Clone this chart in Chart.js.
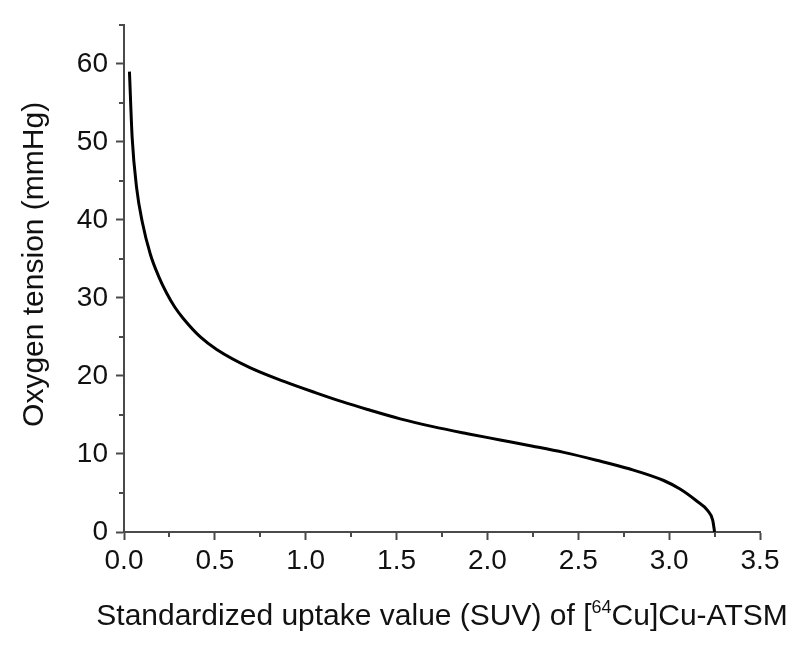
<!DOCTYPE html>
<html>
<head>
<meta charset="utf-8">
<script src="https://cdn.jsdelivr.net/npm/chart.js@4"></script>
<style>
  html, body { margin: 0; padding: 0; background: #fff; }
  #wrap { width: 800px; height: 646px; }
</style>
</head>
<body>
<div id="wrap"><canvas id="chart" width="800" height="646"></canvas></div>
<script>
// values
const suvValues = [0.03, 0.045, 0.07, 0.1, 0.145, 0.19, 0.235, 0.28, 0.325, 0.42, 0.51, 0.69, 0.88, 1.06, 1.2, 1.34, 1.52, 1.7, 1.89, 2.07, 2.25, 2.42, 2.6, 2.78, 2.97, 3.06, 3.15, 3.21, 3.24, 3.25];
const oxygenValues = [59, 50.5, 44, 39.8, 35.6, 32.8, 30.6, 28.8, 27.4, 25.0, 23.4, 21.1, 19.3, 17.8, 16.7, 15.7, 14.5, 13.5, 12.6, 11.8, 11.0, 10.2, 9.2, 8.1, 6.6, 5.5, 4.0, 2.8, 1.5, 0];

const xMajorTicks = [0, 0.5, 1, 1.5, 2, 2.5, 3, 3.5];
const xMinorTicks = [0.25, 0.75, 1.25, 1.75, 2.25, 2.75, 3.25];
const yMajorTicks = [0, 10, 20, 30, 40, 50, 60];
const yMinorTicks = [5, 15, 25, 35, 45, 55, 65];

// x title: text before the superscript, the superscript, text after it
const xTitleParts = ['Standardized uptake value (SUV) of [', '64', 'Cu]Cu-ATSM'];
const yTitle = 'Oxygen tension (mmHg)';

const axisColor = '#4a4a4a';
const textColor = '#111';
const fontFamily = '"Liberation Sans", Arial, sans-serif';

// short minor ticks, drawn from the scales
const minorTicks = {
    id: 'minorTicks',
    afterDraw(chart) {
        const ctx = chart.ctx;
        const xs = chart.scales.x, ys = chart.scales.y;
        ctx.save();
        ctx.strokeStyle = axisColor;
        ctx.lineWidth = 2;
        ctx.beginPath();
        xMinorTicks.forEach(v => {
            const px = Math.round(xs.getPixelForValue(v));
            ctx.moveTo(px, xs.top);
            ctx.lineTo(px, xs.top + 5);
        });
        yMinorTicks.forEach(v => {
            const py = Math.round(ys.getPixelForValue(v));
            ctx.moveTo(ys.right, py);
            ctx.lineTo(ys.right - 5, py);
        });
        ctx.stroke();
        ctx.restore();
    }
};

// axis titles (the x one needs a real superscript)
const axisTitles = {
    id: 'axisTitles',
    afterDraw(chart) {
        const ctx = chart.ctx;
        const area = chart.chartArea;
        ctx.save();
        ctx.fillStyle = textColor;
        ctx.textBaseline = 'alphabetic';

        const big = '30px ' + fontFamily;
        const small = '18px ' + fontFamily;
        ctx.font = big;
        const w0 = ctx.measureText(xTitleParts[0]).width;
        const w2 = ctx.measureText(xTitleParts[2]).width;
        ctx.font = small;
        const w1 = ctx.measureText(xTitleParts[1]).width;
        let x = (area.left + area.right) / 2 - (w0 + w1 + w2) / 2;
        const base = area.bottom + 93;
        ctx.font = big;
        ctx.textAlign = 'left';
        ctx.fillText(xTitleParts[0], x, base);
        x += w0;
        ctx.font = small;
        ctx.fillText(xTitleParts[1], x, base - 12);
        x += w1;
        ctx.font = big;
        ctx.fillText(xTitleParts[2], x, base);

        ctx.translate(43, (area.top + area.bottom) / 2 - 14);
        ctx.rotate(-Math.PI / 2);
        ctx.textAlign = 'center';
        ctx.font = big;
        ctx.fillText(yTitle, 0, 0);
        ctx.restore();
    }
};

new Chart(document.getElementById('chart'), {
    type: 'scatter',
    data: {
        datasets: [{
            data: suvValues.map((x, i) => ({x: x, y: oxygenValues[i]})),
            showLine: true,
            borderColor: '#000',
            borderWidth: 3,
            pointRadius: 0,
            cubicInterpolationMode: 'monotone',
            fill: false
        }]
    },
    options: {
        responsive: false,
        animation: false,
        layout: { padding: { top: 18, right: 40, left: 0, bottom: 0 } },
        plugins: { legend: { display: false }, tooltip: { enabled: false } },
        scales: {
            x: {
                type: 'linear',
                min: 0,
                max: 3.5,
                afterFit: s => { s.height = 114; },
                afterBuildTicks: s => { s.ticks = xMajorTicks.map(v => ({value: v})); },
                grid: { drawOnChartArea: false, tickLength: 8, tickWidth: 2, color: axisColor },
                border: { display: true, color: axisColor, width: 2 },
                ticks: {
                    color: textColor,
                    padding: 4,
                    maxRotation: 0,
                    font: { family: fontFamily, size: 28 },
                    callback: v => v.toFixed(1)
                }
            },
            y: {
                type: 'linear',
                min: 0,
                max: 65,
                afterFit: s => { s.width = 124; },
                afterBuildTicks: s => { s.ticks = yMajorTicks.map(v => ({value: v})); },
                grid: { drawOnChartArea: false, tickLength: 8, tickWidth: 2, color: axisColor },
                border: { display: true, color: axisColor, width: 2 },
                ticks: {
                    color: textColor,
                    padding: 8,
                    font: { family: fontFamily, size: 28 },
                    callback: v => String(v)
                }
            }
        }
    },
    plugins: [minorTicks, axisTitles]
});
</script>
</body>
</html>
